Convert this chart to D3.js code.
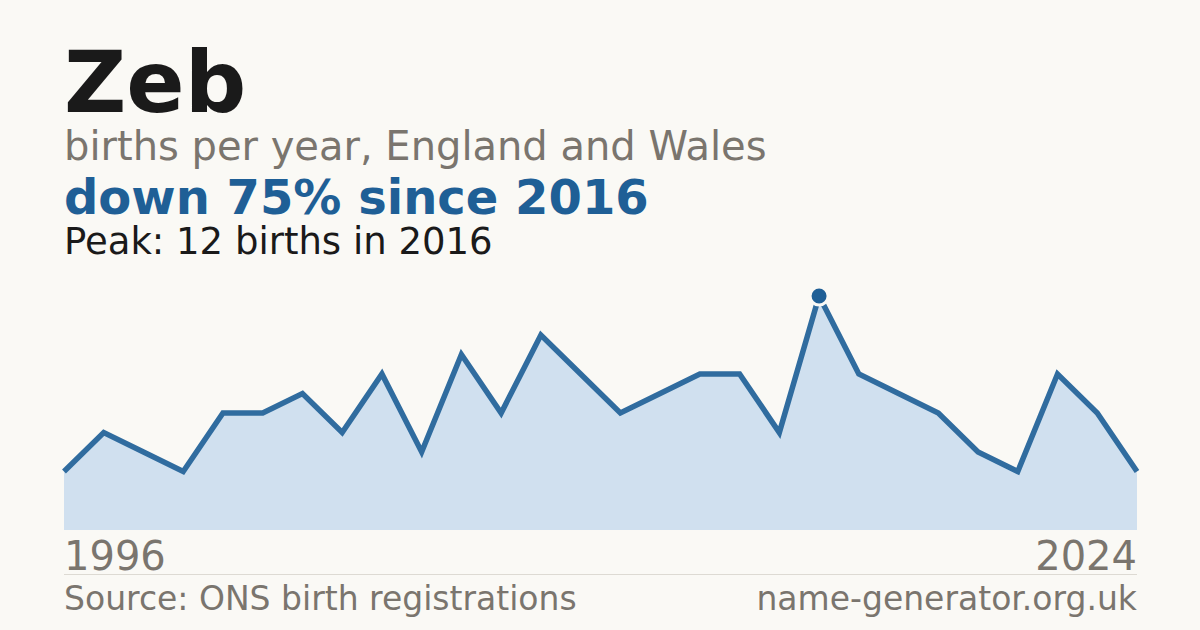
<!DOCTYPE html>
<html lang="en">
<head>
<meta charset="UTF-8">
<title>Zeb - births per year</title>
<script src="https://cdn.jsdelivr.net/npm/d3@7"></script>
<style>
  html, body { margin: 0; padding: 0; background: #faf9f5; }
  body { font-family: 'DejaVu Sans', sans-serif; }
  svg { display: block; }
</style>
</head>
<body>
<svg id="chart"></svg>
<script>
// one year between 1996 and 2016 has no published count, so 28 points
const years = [1996, 1997, 1998, 1999, 2001, 2002, 2003, 2004, 2005, 2006,
               2007, 2008, 2009, 2010, 2011, 2012, 2013, 2014, 2015, 2016,
               2017, 2018, 2019, 2020, 2021, 2022, 2023, 2024];
const births = [3, 5, 4, 3, 6, 6, 7, 5, 8, 4,
                9, 6, 10, 8, 6, 7, 8, 8, 5, 12,
                8, 7, 6, 4, 3, 8, 6, 3];
const firstLabel = '1996';
const lastLabel = '2024';

const W = 1200, H = 630;
const plotLeft = 64, plotRight = 1137, plotTop = 296, plotBottom = 530;

const svg = d3.select('#chart').attr('width', W).attr('height', H);
svg.append('rect').attr('width', W).attr('height', H).attr('fill', '#faf9f5');

const data = years.map((y, i) => ({ year: y, value: births[i] }));
const peak = data.reduce((a, b) => (b.value > a.value ? b : a));
const last = data[data.length - 1];
const drop = Math.round((1 - last.value / peak.value) * 100);

const x = d3.scalePoint().domain(years).range([plotLeft, plotRight]);
const y = d3.scaleLinear().domain([0, peak.value]).range([plotBottom, plotTop]);

// headings
svg.append('text').attr('x', 64).attr('y', 112)
  .attr('font-size', 86).attr('font-weight', 'bold').attr('fill', '#1a1a1a')
  .text('Zeb');
svg.append('text').attr('x', 64).attr('y', 160)
  .attr('font-size', 40).attr('fill', '#7a756e')
  .text('births per year, England and Wales');
svg.append('text').attr('x', 64).attr('y', 214)
  .attr('font-size', 48).attr('font-weight', 'bold').attr('fill', '#1f5f96')
  .text(`down ${drop}% since ${peak.year}`);
svg.append('text').attr('x', 64).attr('y', 254)
  .attr('font-size', 37).attr('fill', '#1a1a1a')
  .text(`Peak: ${peak.value} births in ${peak.year}`);

// area + line
const area = d3.area().x(d => x(d.year)).y0(plotBottom).y1(d => y(d.value));
const line = d3.line().x(d => x(d.year)).y(d => y(d.value));

svg.append('path').datum(data).attr('d', area).attr('fill', '#d0e0ef');
svg.append('path').datum(data).attr('d', line)
  .attr('fill', 'none').attr('stroke', '#306c9f').attr('stroke-width', 5.5)
  .attr('stroke-linejoin', 'miter');

svg.append('circle')
  .attr('cx', x(peak.year)).attr('cy', y(peak.value)).attr('r', 9)
  .attr('fill', '#1f5f96').attr('stroke', '#faf9f5').attr('stroke-width', 3);

// end labels
svg.append('text').attr('x', plotLeft).attr('y', 570)
  .attr('font-size', 40).attr('fill', '#7a756e').text(firstLabel);
svg.append('text').attr('x', plotRight).attr('y', 570).attr('text-anchor', 'end')
  .attr('font-size', 40).attr('fill', '#7a756e').text(lastLabel);

svg.append('line').attr('x1', plotLeft).attr('x2', plotRight).attr('y1', 574.5).attr('y2', 574.5)
  .attr('stroke', '#dddad3').attr('stroke-width', 1);

svg.append('text').attr('x', plotLeft).attr('y', 610)
  .attr('font-size', 33).attr('fill', '#7a756e').text('Source: ONS birth registrations');
svg.append('text').attr('x', plotRight).attr('y', 610).attr('text-anchor', 'end')
  .attr('font-size', 33).attr('fill', '#7a756e').text('name-generator.org.uk');
</script>
</body>
</html>
